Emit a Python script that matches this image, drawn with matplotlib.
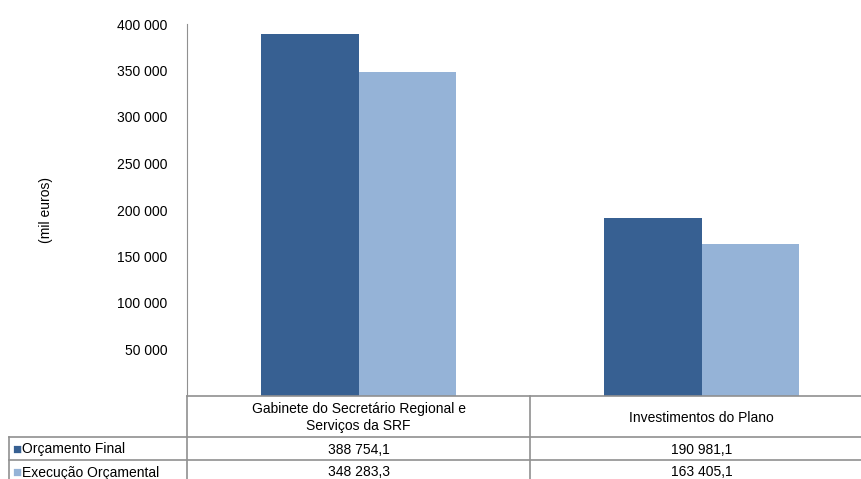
import matplotlib.pyplot as plt
from matplotlib.lines import Line2D

plt.rcParams['font.family'] = ['Liberation Sans', 'DejaVu Sans']

categories = ['Gabinete do Secretário Regional e\nServiços da SRF', 'Investimentos do Plano']
series = ['Orçamento Final', 'Execução Orçamental']
orcamento = [388754.1, 190981.1]
execucao = [348283.3, 163405.1]
colors = ['#376092', '#95B3D7']
yticks = [50000, 100000, 150000, 200000, 250000, 300000, 350000, 400000]

W, H = 861, 479
fig = plt.figure(figsize=(W / 100, H / 100), dpi=100)

# plot area in pixels
x0, y_top, y_bot = 187, 24, 396
cat_w = 343
ax = fig.add_axes([x0 / W, 1 - y_bot / H, (W - x0) / W, (y_bot - y_top) / H])

bw = 0.285
xs = [i + 0.5 for i in range(len(categories))]
ax.bar([x - bw / 2 for x in xs], orcamento, width=bw, color=colors[0])
ax.bar([x + bw / 2 for x in xs], execucao, width=bw, color=colors[1])

ax.set_xlim(0, (W - x0) / cat_w)
ax.set_ylim(0, 400000)
ax.set_yticks(yticks)
ax.set_yticklabels([f'{v:,}'.replace(',', ' ') for v in yticks])
ax.tick_params(axis='y', length=0, pad=14, labelsize=10)
ax.set_xticks([])
for s in ['top', 'right', 'bottom']:
    ax.spines[s].set_visible(False)
ax.spines['left'].set_color('#909090')
fig.text(46 / W, 1 - 210 / H, '(mil euros)', rotation=90, ha='center', va='center', fontsize=10)


def fmt(v):
    s = f'{v:,.1f}'
    return s.replace(',', ' ').replace('.', ',')


def px(x, y):
    return x / W, 1 - y / H


def hline(y, xa, xb):
    (a, yy), (b, _) = px(xa, y), px(xb, y)
    fig.add_artist(Line2D([a, b], [yy, yy], color='#909090', lw=1.2))


def vline(x, ya, yb):
    (xx, a), (_, b) = px(x, ya), px(x, yb)
    fig.add_artist(Line2D([xx, xx], [a, b], color='#909090', lw=1.2))


# data table under the chart
row_h = 23
hdr_bot = 437
hline(y_bot, x0, W)
hline(hdr_bot, 9, W)
hline(hdr_bot + row_h, 9, W)
vline(x0, y_bot, H)
vline(x0 + cat_w, y_bot, H)
vline(9, hdr_bot, H)

for i, c in enumerate(categories):
    cx = x0 + cat_w * (i + 0.5)
    fig.text(*px(cx, (y_bot + hdr_bot) / 2 + 1), c, ha='center', va='center',
             fontsize=10, linespacing=1.25)

for r, (name, vals) in enumerate(zip(series, [orcamento, execucao])):
    cy = hdr_bot + row_h * (r + 0.5) + 1
    fig.text(*px(12, cy), '\u25A0', color=colors[r], ha='left', va='center', fontsize=11)
    fig.text(*px(22, cy), name, ha='left', va='center', fontsize=10)
    for i, v in enumerate(vals):
        fig.text(*px(x0 + cat_w * (i + 0.5), cy), fmt(v), ha='center', va='center', fontsize=10)

fig.savefig('out.png', dpi=100)
